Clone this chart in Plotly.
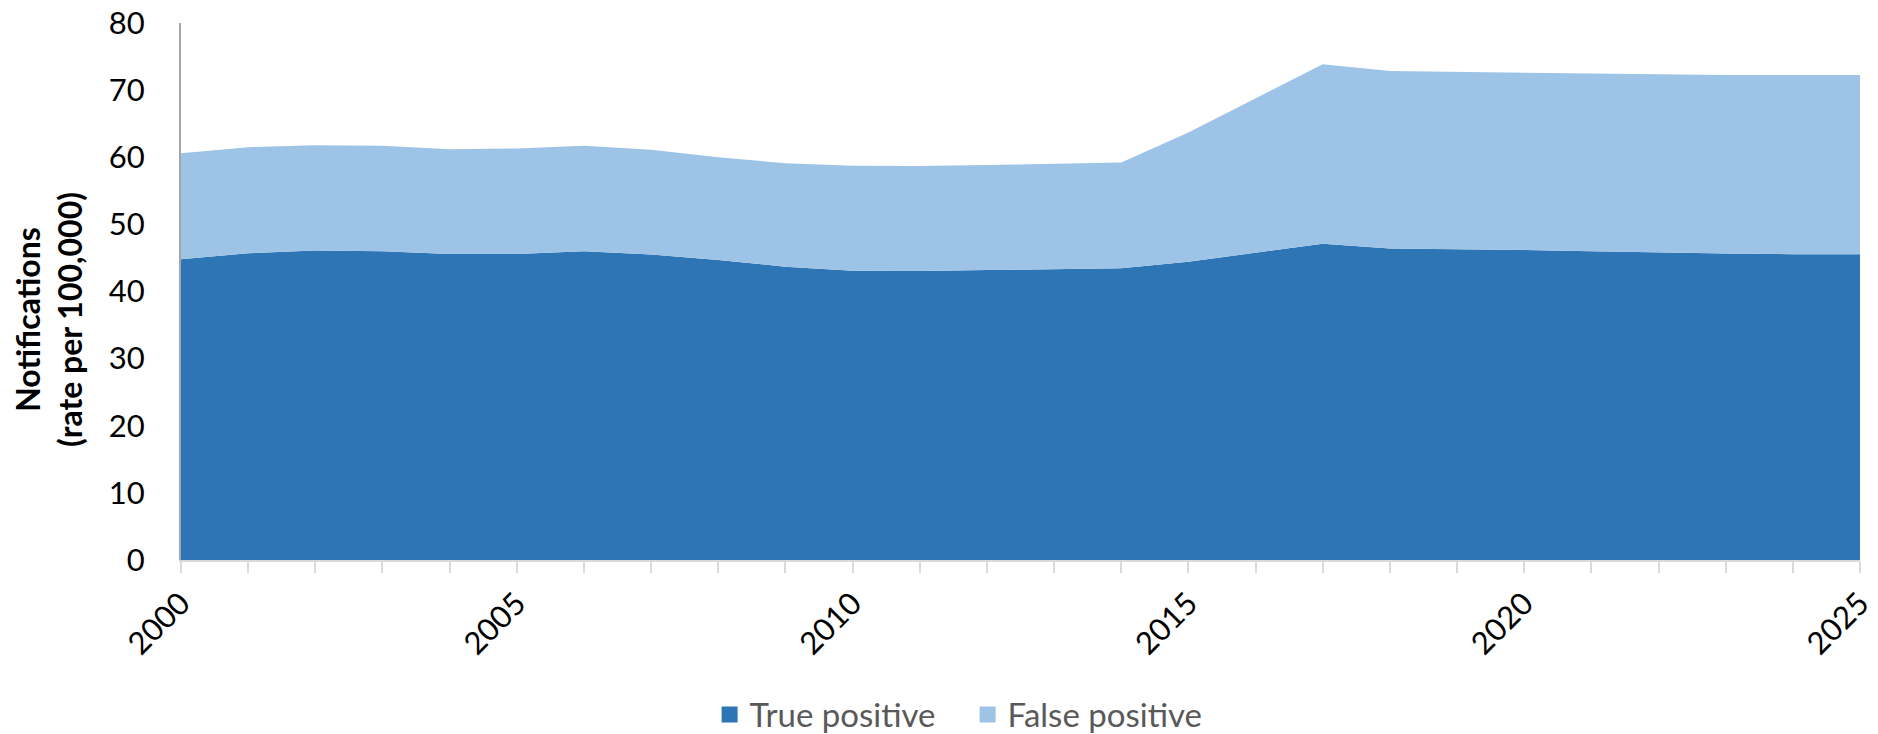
import plotly.graph_objects as go

# Notification rates per 100,000, split by test outcome
years = list(range(2000, 2026))
true_positive = [44.8, 45.7, 46.1, 46.0, 45.6, 45.6, 46.0, 45.5, 44.7, 43.7,
                 43.1, 43.05, 43.2, 43.35, 43.45, 44.45, 45.8, 47.1, 46.4, 46.35,
                 46.2, 46.0, 45.8, 45.65, 45.55, 45.55]
false_positive = [15.8, 15.8, 15.7, 15.7, 15.6, 15.7, 15.7, 15.6, 15.3, 15.4,
                  15.65, 15.65, 15.65, 15.7, 15.75, 19.25, 23.0, 26.75, 26.45, 26.35,
                  26.4, 26.45, 26.55, 26.6, 26.65, 26.7]
series_names = ["True positive", "False positive"]
y_ticks = list(range(0, 81, 10))
x_ticks = list(range(2000, 2026, 5))

DARK_BLUE = "#2E75B6"
LIGHT_BLUE = "#9DC3E6"
FONT = "Lato"

fig = go.Figure()

# stacked areas
for name, vals, color in [(series_names[0], true_positive, DARK_BLUE),
                          (series_names[1], false_positive, LIGHT_BLUE)]:
    fig.add_trace(go.Scatter(
        x=years, y=vals, name=name, stackgroup="rates", mode="lines",
        line=dict(width=0, color=color), fillcolor=color, showlegend=False,
    ))

# square swatches for the legend
for name, color in [(series_names[0], DARK_BLUE), (series_names[1], LIGHT_BLUE)]:
    fig.add_trace(go.Scatter(
        x=[None], y=[None], name=name, mode="markers",
        marker=dict(symbol="square", size=19, color=color), showlegend=True,
    ))

fig.update_layout(
    width=1878, height=734,
    margin=dict(l=181, r=18, t=23, b=174, autoexpand=False),
    paper_bgcolor="white", plot_bgcolor="white",
    font=dict(family=FONT, size=31, color="#000000"),
    showlegend=True,
    legend=dict(
        orientation="h", x=0.4685, xanchor="center", y=-0.288, yanchor="middle",
        font=dict(family=FONT, size=33, color="#595959"),
        itemwidth=30, tracegroupgap=0, traceorder="normal",
        entrywidth=213, entrywidthmode="pixels",
    ),
    xaxis=dict(
        range=[2000, 2025], tickvals=x_ticks, tickangle=-45, automargin=False,
        showline=True, linecolor="#d9d9d9", linewidth=2,
        ticks="outside", ticklen=11, tickcolor="#d9d9d9", tickwidth=2,
        minor=dict(dtick=1, tick0=2000, ticks="outside", ticklen=11,
                   tickcolor="#d9d9d9", tickwidth=2),
        showgrid=False, zeroline=False,
        tickfont=dict(family=FONT, size=31, color="#000000"),
    ),
    yaxis=dict(
        range=[0, 80], tickvals=y_ticks, automargin=False,
        showline=True, linecolor="#a6a6a6", linewidth=2,
        ticks="", showgrid=False, zeroline=False,
        ticklabelstandoff=28,
        tickfont=dict(family=FONT, size=31, color="#000000"),
    ),
    annotations=[dict(
        text="<b>Notifications</b><br><b>(rate per 100,000)</b>",
        xref="paper", yref="paper", x=-0.0786, y=0.447,
        xanchor="center", yanchor="middle", textangle=-90, showarrow=False,
        font=dict(family=FONT, size=32, color="#000000"),
    )],
)

fig.write_html("out.html")
